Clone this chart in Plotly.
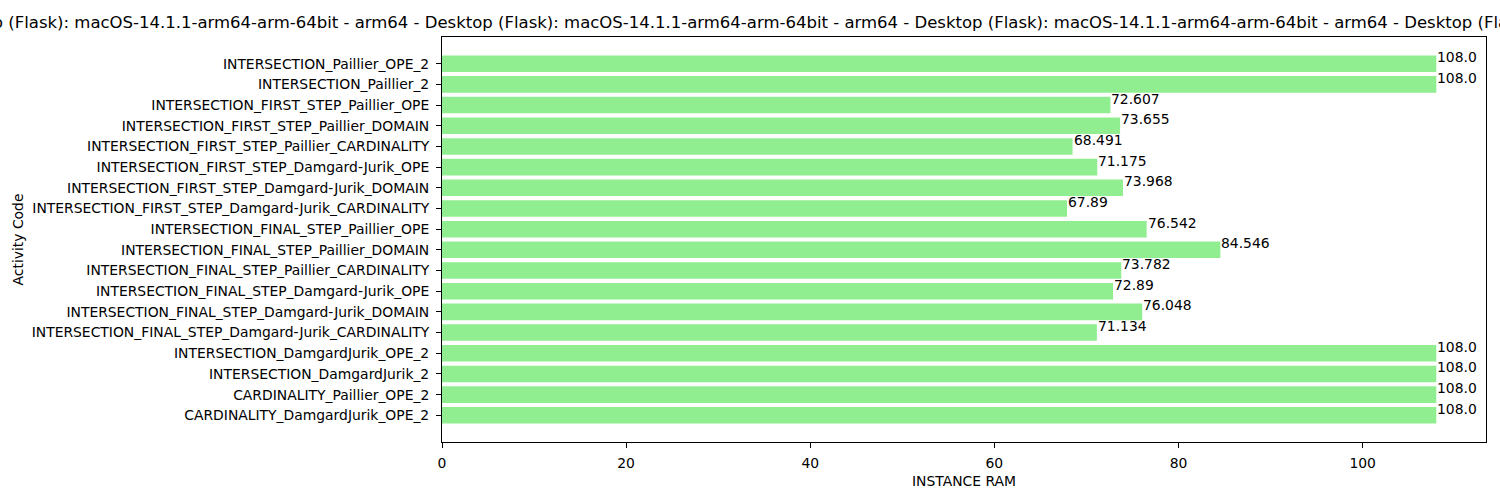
import plotly.graph_objects as go

categories = [
    "INTERSECTION_Paillier_OPE_2",
    "INTERSECTION_Paillier_2",
    "INTERSECTION_FIRST_STEP_Paillier_OPE",
    "INTERSECTION_FIRST_STEP_Paillier_DOMAIN",
    "INTERSECTION_FIRST_STEP_Paillier_CARDINALITY",
    "INTERSECTION_FIRST_STEP_Damgard-Jurik_OPE",
    "INTERSECTION_FIRST_STEP_Damgard-Jurik_DOMAIN",
    "INTERSECTION_FIRST_STEP_Damgard-Jurik_CARDINALITY",
    "INTERSECTION_FINAL_STEP_Paillier_OPE",
    "INTERSECTION_FINAL_STEP_Paillier_DOMAIN",
    "INTERSECTION_FINAL_STEP_Paillier_CARDINALITY",
    "INTERSECTION_FINAL_STEP_Damgard-Jurik_OPE",
    "INTERSECTION_FINAL_STEP_Damgard-Jurik_DOMAIN",
    "INTERSECTION_FINAL_STEP_Damgard-Jurik_CARDINALITY",
    "INTERSECTION_DamgardJurik_OPE_2",
    "INTERSECTION_DamgardJurik_2",
    "CARDINALITY_Paillier_OPE_2",
    "CARDINALITY_DamgardJurik_OPE_2",
]
values = [108.0, 108.0, 72.607, 73.655, 68.491, 71.175, 73.968, 67.89, 76.542,
          84.546, 73.782, 72.89, 76.048, 71.134, 108.0, 108.0, 108.0, 108.0]
value_labels = [str(v) for v in values]
title_segment = "Desktop (Flask): macOS-14.1.1-arm64-arm-64bit - arm64"
x_ticks = [0, 20, 40, 60, 80, 100]

FONT = "DejaVu Sans"
fig = go.Figure(go.Bar(
    x=values, y=categories, orientation="h",
    marker=dict(color="#90EE90", line=dict(width=0)),
    width=0.8,
))

for c, v, lab in zip(categories, values, value_labels):
    fig.add_annotation(x=v, y=c, text=lab, showarrow=False, xanchor="left",
                       yanchor="bottom", yshift=-3.5, xshift=-1,
                       font=dict(family=FONT, size=13.9, color="black"))

L, R, T, B = 442, 14, 37, 58
pw = 1500 - L - R
xmax = 108.0 * 1.05
title_text = " - ".join([title_segment] * 5)
fig.add_annotation(text=title_text, xref="paper", yref="paper",
                   x=(-67 - L) / pw, y=1, xanchor="left", yanchor="bottom",
                   yshift=3, showarrow=False,
                   font=dict(family=FONT, size=16.5, color="black"))

n = len(categories)
fig.update_layout(
    width=1500, height=500,
    margin=dict(l=L, r=R, t=T, b=B),
    plot_bgcolor="white", paper_bgcolor="white",
    font=dict(family=FONT, size=13.9, color="black"),
    showlegend=False,
    xaxis=dict(range=[0, xmax], tickvals=x_ticks, ticks="outside", ticklen=5,
               tickcolor="black", showline=True, linecolor="black", linewidth=1,
               mirror=True, showgrid=False, zeroline=False,
               ticklabelstandoff=3,
               title=dict(text="INSTANCE RAM", font=dict(family=FONT, size=13.9), standoff=6)),
    yaxis=dict(range=[n - 1 + 0.4 + 0.89, -0.4 - 0.89], ticks="outside", ticklen=5,
               tickcolor="black", showline=True, linecolor="black", linewidth=1,
               mirror=True, showgrid=False, zeroline=False,
               ticklabelstandoff=4,
               title=dict(text="Activity Code", font=dict(family=FONT, size=13.9), standoff=4)),
)
fig.write_html("out.html")
